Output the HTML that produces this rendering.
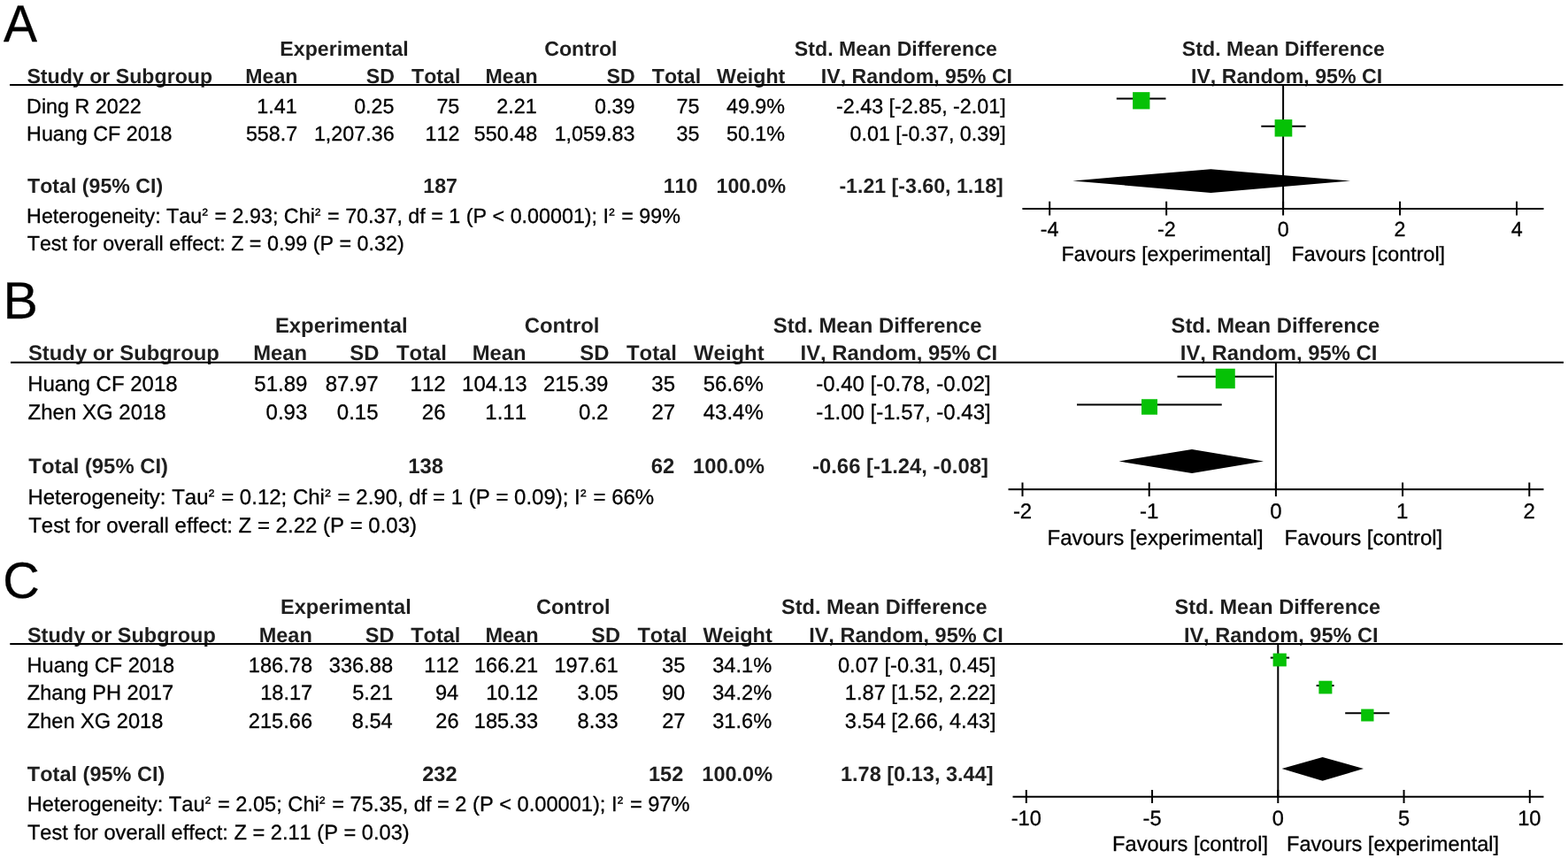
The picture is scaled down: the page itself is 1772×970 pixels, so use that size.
<!DOCTYPE html>
<html><head><meta charset="utf-8"><title>Forest plots</title>
<style>
html,body{margin:0;padding:0;background:#fff;}
body{width:1772px;height:970px;overflow:hidden;}
svg{display:block;}
text{font-family:"Liberation Sans", Arial, Helvetica, sans-serif;fill:#000;stroke:#000;stroke-width:0.3px;text-rendering:geometricPrecision;font-kerning:none;font-feature-settings:"kern" 0;}
text.b{font-weight:bold;fill:#1e1e1e;stroke:none;}
</style></head><body>
<svg width="1772" height="970" viewBox="0 0 1772 970">
<rect width="1772" height="970" fill="#fff"/>
<text x="3.90" y="46.60" font-size="57" transform="matrix(1 0 0 1.035 0 -1.631)">A</text>
<text x="316.37" y="63.00" font-size="23.17" class="b">Experimental</text>
<text x="615.22" y="63.00" font-size="23.17" class="b">Control</text>
<text x="897.87" y="63.00" font-size="23.17" class="b">Std. Mean Difference</text>
<text x="1335.87" y="63.00" font-size="23.17" class="b">Std. Mean Difference</text>
<text x="30.42" y="93.75" font-size="23.17" class="b">Study or Subgroup</text>
<text x="336.47" y="93.75" font-size="23.17" class="b" text-anchor="end">Mean</text>
<text x="445.97" y="93.75" font-size="23.17" class="b" text-anchor="end">SD</text>
<text x="520.39" y="93.75" font-size="23.17" class="b" text-anchor="end">Total</text>
<text x="607.72" y="93.75" font-size="23.17" class="b" text-anchor="end">Mean</text>
<text x="717.72" y="93.75" font-size="23.17" class="b" text-anchor="end">SD</text>
<text x="792.14" y="93.75" font-size="23.17" class="b" text-anchor="end">Total</text>
<text x="887.26" y="93.75" font-size="23.17" class="b" text-anchor="end">Weight</text>
<text x="927.87" y="93.75" font-size="23.17" class="b">IV, Random, 95% CI</text>
<text x="1345.97" y="93.75" font-size="23.17" class="b">IV, Random, 95% CI</text>
<line x1="11.00" y1="96.00" x2="1766.40" y2="96.00" stroke="#000" stroke-width="2"/>
<text x="30.10" y="127.50" font-size="23.3">Ding R 2022</text>
<text x="335.70" y="127.50" font-size="23.3" text-anchor="end">1.41</text>
<text x="445.50" y="127.50" font-size="23.3" text-anchor="end">0.25</text>
<text x="519.30" y="127.50" font-size="23.3" text-anchor="end">75</text>
<text x="606.70" y="127.50" font-size="23.3" text-anchor="end">2.21</text>
<text x="717.35" y="127.50" font-size="23.3" text-anchor="end">0.39</text>
<text x="790.50" y="127.50" font-size="23.3" text-anchor="end">75</text>
<text x="887.05" y="127.50" font-size="23.3" text-anchor="end">49.9%</text>
<text x="1136.70" y="127.50" font-size="23.3" text-anchor="end">-2.43 [-2.85, -2.01]</text>
<text x="30.10" y="158.80" font-size="23.3">Huang CF 2018</text>
<text x="336.20" y="158.80" font-size="23.3" text-anchor="end">558.7</text>
<text x="445.60" y="158.80" font-size="23.3" text-anchor="end">1,207.36</text>
<text x="519.47" y="158.80" font-size="23.3" text-anchor="end">112</text>
<text x="607.10" y="158.80" font-size="23.3" text-anchor="end">550.48</text>
<text x="717.35" y="158.80" font-size="23.3" text-anchor="end">1,059.83</text>
<text x="790.50" y="158.80" font-size="23.3" text-anchor="end">35</text>
<text x="887.05" y="158.80" font-size="23.3" text-anchor="end">50.1%</text>
<text x="1136.70" y="158.80" font-size="23.3" text-anchor="end">0.01 [-0.37, 0.39]</text>
<text x="31.07" y="218.00" font-size="23.17" class="b">Total (95% CI)</text>
<text x="516.97" y="218.00" font-size="23.17" class="b" text-anchor="end">187</text>
<text x="788.35" y="218.00" font-size="23.17" class="b" text-anchor="end">110</text>
<text x="888.07" y="218.00" font-size="23.17" class="b" text-anchor="end">100.0%</text>
<text x="1133.77" y="218.00" font-size="23.17" class="b" text-anchor="end">-1.21 [-3.60, 1.18]</text>
<text x="30.10" y="251.90" font-size="23.3">Heterogeneity: Tau<tspan font-size="19.11" dx="0.3" dy="-2.92">²</tspan><tspan dx="1.10" dy="2.92"> = 2.93; Chi</tspan><tspan font-size="19.11" dx="0.3" dy="-2.92">²</tspan><tspan dx="1.10" dy="2.92"> = 70.37, df = 1 (P &lt; 0.00001); I</tspan><tspan font-size="19.11" dx="0.3" dy="-2.92">²</tspan><tspan dx="1.10" dy="2.92"> = 99%</tspan></text>
<text x="30.70" y="282.50" font-size="23.3">Test for overall effect: Z = 0.99 (P = 0.32)</text>
<line x1="1450.10" y1="96.00" x2="1450.10" y2="236.90" stroke="#000" stroke-width="2"/>
<line x1="1155.40" y1="235.90" x2="1744.50" y2="235.90" stroke="#000" stroke-width="2"/>
<line x1="1186.18" y1="227.70" x2="1186.18" y2="243.50" stroke="#000" stroke-width="2"/>
<text x="1186.03" y="266.70" font-size="23.3" text-anchor="middle">-4</text>
<line x1="1318.14" y1="227.70" x2="1318.14" y2="243.50" stroke="#000" stroke-width="2"/>
<text x="1318.24" y="266.70" font-size="23.3" text-anchor="middle">-2</text>
<line x1="1450.10" y1="227.70" x2="1450.10" y2="243.50" stroke="#000" stroke-width="2"/>
<text x="1450.15" y="266.70" font-size="23.3" text-anchor="middle">0</text>
<line x1="1582.06" y1="227.70" x2="1582.06" y2="243.50" stroke="#000" stroke-width="2"/>
<text x="1582.06" y="266.70" font-size="23.3" text-anchor="middle">2</text>
<line x1="1714.02" y1="227.70" x2="1714.02" y2="243.50" stroke="#000" stroke-width="2"/>
<text x="1714.12" y="266.70" font-size="23.3" text-anchor="middle">4</text>
<text x="1199.50" y="294.70" font-size="23.3">Favours [experimental]</text>
<text x="1459.60" y="294.70" font-size="23.3">Favours [control]</text>
<line x1="1261.80" y1="111.60" x2="1317.50" y2="111.60" stroke="#000" stroke-width="2"/>
<rect x="1280.10" y="104.15" width="19.30" height="19.25" fill="#06c106"/>
<line x1="1425.30" y1="142.80" x2="1475.60" y2="142.80" stroke="#000" stroke-width="2"/>
<rect x="1440.60" y="135.10" width="19.70" height="19.40" fill="#06c106"/>
<polygon points="1212.20,204.40 1368.40,191.20 1526.20,204.40 1368.40,217.90" fill="#000"/>
<text x="3.45" y="359.80" font-size="59">B</text>
<text x="310.95" y="375.90" font-size="23.85" class="b">Experimental</text>
<text x="592.70" y="375.90" font-size="23.85" class="b">Control</text>
<text x="873.75" y="375.90" font-size="23.85" class="b">Std. Mean Difference</text>
<text x="1323.50" y="375.90" font-size="23.85" class="b">Std. Mean Difference</text>
<text x="31.95" y="407.20" font-size="23.85" class="b">Study or Subgroup</text>
<text x="347.20" y="407.20" font-size="23.85" class="b" text-anchor="end">Mean</text>
<text x="428.45" y="407.20" font-size="23.85" class="b" text-anchor="end">SD</text>
<text x="504.97" y="407.20" font-size="23.85" class="b" text-anchor="end">Total</text>
<text x="594.70" y="407.20" font-size="23.85" class="b" text-anchor="end">Mean</text>
<text x="688.45" y="407.20" font-size="23.85" class="b" text-anchor="end">SD</text>
<text x="764.97" y="407.20" font-size="23.85" class="b" text-anchor="end">Total</text>
<text x="863.59" y="407.20" font-size="23.85" class="b" text-anchor="end">Weight</text>
<text x="904.60" y="407.20" font-size="23.85" class="b">IV, Random, 95% CI</text>
<text x="1333.85" y="407.20" font-size="23.85" class="b">IV, Random, 95% CI</text>
<line x1="12.00" y1="409.75" x2="1767.00" y2="409.75" stroke="#000" stroke-width="2"/>
<text x="31.20" y="442.20" font-size="24.0">Huang CF 2018</text>
<text x="347.35" y="442.20" font-size="24.0" text-anchor="end">51.89</text>
<text x="427.70" y="442.20" font-size="24.0" text-anchor="end">87.97</text>
<text x="503.67" y="442.20" font-size="24.0" text-anchor="end">112</text>
<text x="595.50" y="442.20" font-size="24.0" text-anchor="end">104.13</text>
<text x="687.35" y="442.20" font-size="24.0" text-anchor="end">215.39</text>
<text x="763.00" y="442.20" font-size="24.0" text-anchor="end">35</text>
<text x="862.80" y="442.20" font-size="24.0" text-anchor="end">56.6%</text>
<text x="1119.70" y="442.20" font-size="24.0" text-anchor="end">-0.40 [-0.78, -0.02]</text>
<text x="31.60" y="474.10" font-size="24.0">Zhen XG 2018</text>
<text x="347.25" y="474.10" font-size="24.0" text-anchor="end">0.93</text>
<text x="427.50" y="474.10" font-size="24.0" text-anchor="end">0.15</text>
<text x="503.50" y="474.10" font-size="24.0" text-anchor="end">26</text>
<text x="595.07" y="474.10" font-size="24.0" text-anchor="end">1.11</text>
<text x="687.45" y="474.10" font-size="24.0" text-anchor="end">0.2</text>
<text x="763.20" y="474.10" font-size="24.0" text-anchor="end">27</text>
<text x="862.80" y="474.10" font-size="24.0" text-anchor="end">43.4%</text>
<text x="1119.70" y="474.10" font-size="24.0" text-anchor="end">-1.00 [-1.57, -0.43]</text>
<text x="32.35" y="535.20" font-size="23.85" class="b">Total (95% CI)</text>
<text x="501.15" y="535.20" font-size="23.85" class="b" text-anchor="end">138</text>
<text x="762.20" y="535.20" font-size="23.85" class="b" text-anchor="end">62</text>
<text x="863.90" y="535.20" font-size="23.85" class="b" text-anchor="end">100.0%</text>
<text x="1116.85" y="535.20" font-size="23.85" class="b" text-anchor="end">-0.66 [-1.24, -0.08]</text>
<text x="31.40" y="570.20" font-size="24.0">Heterogeneity: Tau<tspan font-size="19.68" dx="0.3" dy="-3.01">²</tspan><tspan dx="1.14" dy="3.01"> = 0.12; Chi</tspan><tspan font-size="19.68" dx="0.3" dy="-3.01">²</tspan><tspan dx="1.14" dy="3.01"> = 2.90, df = 1 (P = 0.09); I</tspan><tspan font-size="19.68" dx="0.3" dy="-3.01">²</tspan><tspan dx="1.14" dy="3.01"> = 66%</tspan></text>
<text x="32.20" y="602.20" font-size="24.0">Test for overall effect: Z = 2.22 (P = 0.03)</text>
<line x1="1441.90" y1="409.75" x2="1441.90" y2="554.25" stroke="#000" stroke-width="2"/>
<line x1="1139.50" y1="553.25" x2="1744.50" y2="553.25" stroke="#000" stroke-width="2"/>
<line x1="1155.50" y1="545.50" x2="1155.50" y2="561.25" stroke="#000" stroke-width="2"/>
<text x="1155.55" y="586.25" font-size="24.0" text-anchor="middle">-2</text>
<line x1="1298.70" y1="545.50" x2="1298.70" y2="561.25" stroke="#000" stroke-width="2"/>
<text x="1298.70" y="586.25" font-size="24.0" text-anchor="middle">-1</text>
<line x1="1441.90" y1="545.50" x2="1441.90" y2="561.25" stroke="#000" stroke-width="2"/>
<text x="1441.90" y="586.25" font-size="24.0" text-anchor="middle">0</text>
<line x1="1585.10" y1="545.50" x2="1585.10" y2="561.25" stroke="#000" stroke-width="2"/>
<text x="1584.75" y="586.25" font-size="24.0" text-anchor="middle">1</text>
<line x1="1728.30" y1="545.50" x2="1728.30" y2="561.25" stroke="#000" stroke-width="2"/>
<text x="1728.30" y="586.25" font-size="24.0" text-anchor="middle">2</text>
<text x="1183.50" y="615.50" font-size="24.0">Favours [experimental]</text>
<text x="1451.50" y="615.50" font-size="24.0">Favours [control]</text>
<line x1="1330.50" y1="425.75" x2="1439.25" y2="425.75" stroke="#000" stroke-width="2"/>
<rect x="1373.75" y="416.75" width="22.00" height="22.50" fill="#06c106"/>
<line x1="1217.00" y1="457.50" x2="1380.75" y2="457.50" stroke="#000" stroke-width="2"/>
<rect x="1290.00" y="451.25" width="18.00" height="17.50" fill="#06c106"/>
<polygon points="1264.50,521.50 1347.00,508.00 1428.00,521.50 1347.00,535.00" fill="#000"/>
<text x="3.35" y="676.40" font-size="57.5">C</text>
<text x="317.02" y="694.25" font-size="23.52" class="b">Experimental</text>
<text x="606.02" y="694.25" font-size="23.52" class="b">Control</text>
<text x="883.07" y="694.25" font-size="23.52" class="b">Std. Mean Difference</text>
<text x="1327.57" y="694.25" font-size="23.52" class="b">Std. Mean Difference</text>
<text x="30.92" y="725.90" font-size="23.52" class="b">Study or Subgroup</text>
<text x="352.77" y="725.90" font-size="23.52" class="b" text-anchor="end">Mean</text>
<text x="445.52" y="725.90" font-size="23.52" class="b" text-anchor="end">SD</text>
<text x="520.34" y="725.90" font-size="23.52" class="b" text-anchor="end">Total</text>
<text x="608.52" y="725.90" font-size="23.52" class="b" text-anchor="end">Mean</text>
<text x="701.02" y="725.90" font-size="23.52" class="b" text-anchor="end">SD</text>
<text x="776.59" y="725.90" font-size="23.52" class="b" text-anchor="end">Total</text>
<text x="872.81" y="725.90" font-size="23.52" class="b" text-anchor="end">Weight</text>
<text x="914.17" y="725.90" font-size="23.52" class="b">IV, Random, 95% CI</text>
<text x="1337.92" y="725.90" font-size="23.52" class="b">IV, Random, 95% CI</text>
<line x1="11.25" y1="728.00" x2="1766.00" y2="728.00" stroke="#000" stroke-width="2"/>
<text x="30.52" y="759.60" font-size="23.62">Huang CF 2018</text>
<text x="353.02" y="759.60" font-size="23.62" text-anchor="end">186.78</text>
<text x="444.02" y="759.60" font-size="23.62" text-anchor="end">336.88</text>
<text x="518.69" y="759.60" font-size="23.62" text-anchor="end">112</text>
<text x="608.12" y="759.60" font-size="23.62" text-anchor="end">166.21</text>
<text x="698.62" y="759.60" font-size="23.62" text-anchor="end">197.61</text>
<text x="774.27" y="759.60" font-size="23.62" text-anchor="end">35</text>
<text x="872.17" y="759.60" font-size="23.62" text-anchor="end">34.1%</text>
<text x="1125.47" y="759.60" font-size="23.62" text-anchor="end">0.07 [-0.31, 0.45]</text>
<text x="30.72" y="791.10" font-size="23.62">Zhang PH 2017</text>
<text x="353.22" y="791.10" font-size="23.62" text-anchor="end">18.17</text>
<text x="444.12" y="791.10" font-size="23.62" text-anchor="end">5.21</text>
<text x="518.22" y="791.10" font-size="23.62" text-anchor="end">94</text>
<text x="608.22" y="791.10" font-size="23.62" text-anchor="end">10.12</text>
<text x="698.52" y="791.10" font-size="23.62" text-anchor="end">3.05</text>
<text x="774.17" y="791.10" font-size="23.62" text-anchor="end">90</text>
<text x="872.17" y="791.10" font-size="23.62" text-anchor="end">34.2%</text>
<text x="1125.47" y="791.10" font-size="23.62" text-anchor="end">1.87 [1.52, 2.22]</text>
<text x="30.72" y="822.60" font-size="23.62">Zhen XG 2018</text>
<text x="353.02" y="822.60" font-size="23.62" text-anchor="end">215.66</text>
<text x="443.72" y="822.60" font-size="23.62" text-anchor="end">8.54</text>
<text x="518.52" y="822.60" font-size="23.62" text-anchor="end">26</text>
<text x="608.02" y="822.60" font-size="23.62" text-anchor="end">185.33</text>
<text x="698.52" y="822.60" font-size="23.62" text-anchor="end">8.33</text>
<text x="774.47" y="822.60" font-size="23.62" text-anchor="end">27</text>
<text x="872.17" y="822.60" font-size="23.62" text-anchor="end">31.6%</text>
<text x="1125.47" y="822.60" font-size="23.62" text-anchor="end">3.54 [2.66, 4.43]</text>
<text x="30.87" y="883.40" font-size="23.52" class="b">Total (95% CI)</text>
<text x="516.52" y="883.40" font-size="23.52" class="b" text-anchor="end">232</text>
<text x="772.27" y="883.40" font-size="23.52" class="b" text-anchor="end">152</text>
<text x="873.12" y="883.40" font-size="23.52" class="b" text-anchor="end">100.0%</text>
<text x="1122.57" y="883.40" font-size="23.52" class="b" text-anchor="end">1.78 [0.13, 3.44]</text>
<text x="30.72" y="917.20" font-size="23.62">Heterogeneity: Tau<tspan font-size="19.37" dx="0.3" dy="-2.95">²</tspan><tspan dx="1.12" dy="2.95"> = 2.05; Chi</tspan><tspan font-size="19.37" dx="0.3" dy="-2.95">²</tspan><tspan dx="1.12" dy="2.95"> = 75.35, df = 2 (P &lt; 0.00001); I</tspan><tspan font-size="19.37" dx="0.3" dy="-2.95">²</tspan><tspan dx="1.12" dy="2.95"> = 97%</tspan></text>
<text x="30.92" y="948.70" font-size="23.62">Test for overall effect: Z = 2.11 (P = 0.03)</text>
<line x1="1444.30" y1="728.00" x2="1444.30" y2="901.70" stroke="#000" stroke-width="2"/>
<line x1="1144.50" y1="900.70" x2="1744.50" y2="900.70" stroke="#000" stroke-width="2"/>
<line x1="1159.80" y1="893.00" x2="1159.80" y2="908.00" stroke="#000" stroke-width="2"/>
<text x="1159.77" y="932.90" font-size="23.62" text-anchor="middle">-10</text>
<line x1="1302.05" y1="893.00" x2="1302.05" y2="908.00" stroke="#000" stroke-width="2"/>
<text x="1302.07" y="932.90" font-size="23.62" text-anchor="middle">-5</text>
<line x1="1444.30" y1="893.00" x2="1444.30" y2="908.00" stroke="#000" stroke-width="2"/>
<text x="1444.32" y="932.90" font-size="23.62" text-anchor="middle">0</text>
<line x1="1586.55" y1="893.00" x2="1586.55" y2="908.00" stroke="#000" stroke-width="2"/>
<text x="1586.57" y="932.90" font-size="23.62" text-anchor="middle">5</text>
<line x1="1728.80" y1="893.00" x2="1728.80" y2="908.00" stroke="#000" stroke-width="2"/>
<text x="1728.37" y="932.90" font-size="23.62" text-anchor="middle">10</text>
<text x="1257.12" y="962.20" font-size="23.62">Favours [control]</text>
<text x="1454.02" y="962.20" font-size="23.62">Favours [experimental]</text>
<line x1="1435.80" y1="743.60" x2="1457.10" y2="743.60" stroke="#000" stroke-width="2"/>
<rect x="1438.60" y="738.60" width="15.20" height="14.80" fill="#06c106"/>
<line x1="1487.60" y1="775.10" x2="1507.60" y2="775.10" stroke="#000" stroke-width="2"/>
<rect x="1490.40" y="769.70" width="15.00" height="14.70" fill="#06c106"/>
<line x1="1520.20" y1="806.30" x2="1570.30" y2="806.30" stroke="#000" stroke-width="2"/>
<rect x="1538.20" y="801.60" width="14.30" height="13.90" fill="#06c106"/>
<polygon points="1448.60,869.00 1494.60,856.00 1541.00,869.00 1494.60,882.70" fill="#000"/>
</svg>
</body></html>
